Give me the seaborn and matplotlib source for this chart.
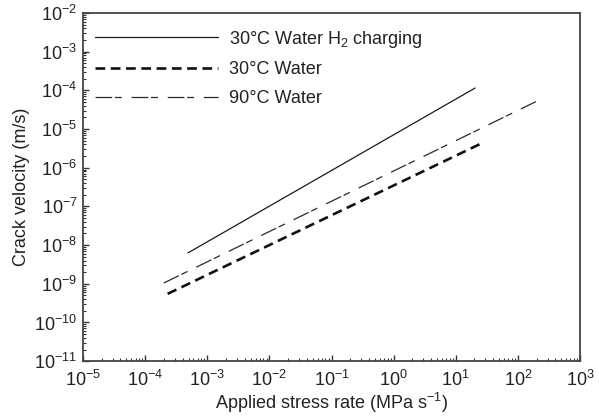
import numpy as np
import pandas as pd
import matplotlib
matplotlib.use("Agg")
import matplotlib.pyplot as plt
import matplotlib.ticker as mticker
import seaborn as sns

# Data (endpoints of each straight line on log-log axes)
labels = ["30°C Water H$_2$ charging", "30°C Water", "90°C Water"]
h2_x = [4.9e-4, 20.5]
h2_y = [6.3e-9, 1.15e-4]
w30_x = [2.3e-4, 27.0]
w30_y = [5.5e-10, 4.4e-6]
w90_x = [2.0e-4, 204.0]
w90_y = [1.05e-9, 5.3e-5]

x_ticks = [1e-5, 1e-4, 1e-3, 1e-2, 1e-1, 1e0, 1e1, 1e2, 1e3]
y_ticks = [1e-11, 1e-10, 1e-9, 1e-8, 1e-7, 1e-6, 1e-5, 1e-4, 1e-3, 1e-2]

sns.set_theme(style="ticks")
plt.rcParams["font.family"] = ["Liberation Sans", "DejaVu Sans"]
plt.rcParams["mathtext.fontset"] = "custom"
plt.rcParams["mathtext.rm"] = "Liberation Sans"
plt.rcParams["mathtext.it"] = "Liberation Sans:italic"
plt.rcParams["mathtext.bf"] = "Liberation Sans:bold"
plt.rcParams["mathtext.default"] = "regular"
plt.rcParams["lines.scale_dashes"] = False

FS = 13

fig = plt.figure(figsize=(5.99, 4.19), dpi=100)
ax = fig.add_axes([0.1386, 0.138, 0.8297, 0.831])

df = pd.concat([
    pd.DataFrame({"x": h2_x, "y": h2_y, "s": labels[0]}),
    pd.DataFrame({"x": w30_x, "y": w30_y, "s": labels[1]}),
    pd.DataFrame({"x": w90_x, "y": w90_y, "s": labels[2]}),
])

styles = {
    labels[0]: dict(color="#1a1a1a", lw=0.9, ls="-"),
    labels[1]: dict(color="#111111", lw=1.9, ls=(0, (7, 4))),
    labels[2]: dict(color="#2a2a2a", lw=0.9, ls=(0, (12, 2, 5, 7))),
}
for lab in labels:
    sub = df[df["s"] == lab]
    sns.lineplot(data=sub, x="x", y="y", ax=ax, label=lab, **styles[lab])

ax.set_xscale("log")
ax.set_yscale("log")
ax.set_xlim(1e-5, 1e3)
ax.set_ylim(1e-11, 1e-2)

fmt = mticker.FuncFormatter(lambda v, p: r"$10^{%d}$" % int(round(np.log10(v))))
ax.set_xticks(x_ticks)
ax.set_yticks(y_ticks)
ax.xaxis.set_major_formatter(fmt)
ax.yaxis.set_major_formatter(fmt)
ax.xaxis.set_minor_locator(mticker.LogLocator(base=10, subs=np.arange(2, 10), numticks=100))
ax.yaxis.set_minor_locator(mticker.LogLocator(base=10, subs=np.arange(2, 10), numticks=100))
ax.xaxis.set_minor_formatter(mticker.NullFormatter())
ax.yaxis.set_minor_formatter(mticker.NullFormatter())

ax.tick_params(which="major", direction="in", length=4, width=1, colors="#333333",
               labelsize=FS, labelcolor="#222222", top=False, right=False, pad=4)
ax.tick_params(axis="x", which="major", pad=6)
ax.tick_params(which="minor", direction="in", length=2.5, width=0.8, colors="#333333",
               top=False, right=False)
for sp in ax.spines.values():
    sp.set_color("#444444")
    sp.set_linewidth(1.3)
    sp.set_visible(True)

ax.set_xlabel("Applied stress rate (MPa s$^{-1}$)", fontsize=FS, color="#222222", labelpad=1)
ax.set_ylabel("Crack velocity (m/s)", fontsize=FS, color="#222222", labelpad=3)

leg = ax.legend(loc="upper left", bbox_to_anchor=(0.024, 0.955), frameon=False,
                handlelength=6.8, handletextpad=0.6, labelspacing=0.65,
                borderpad=0, borderaxespad=0, fontsize=FS)
for t in leg.get_texts():
    t.set_color("#222222")

fig.savefig("out.png", dpi=100)
